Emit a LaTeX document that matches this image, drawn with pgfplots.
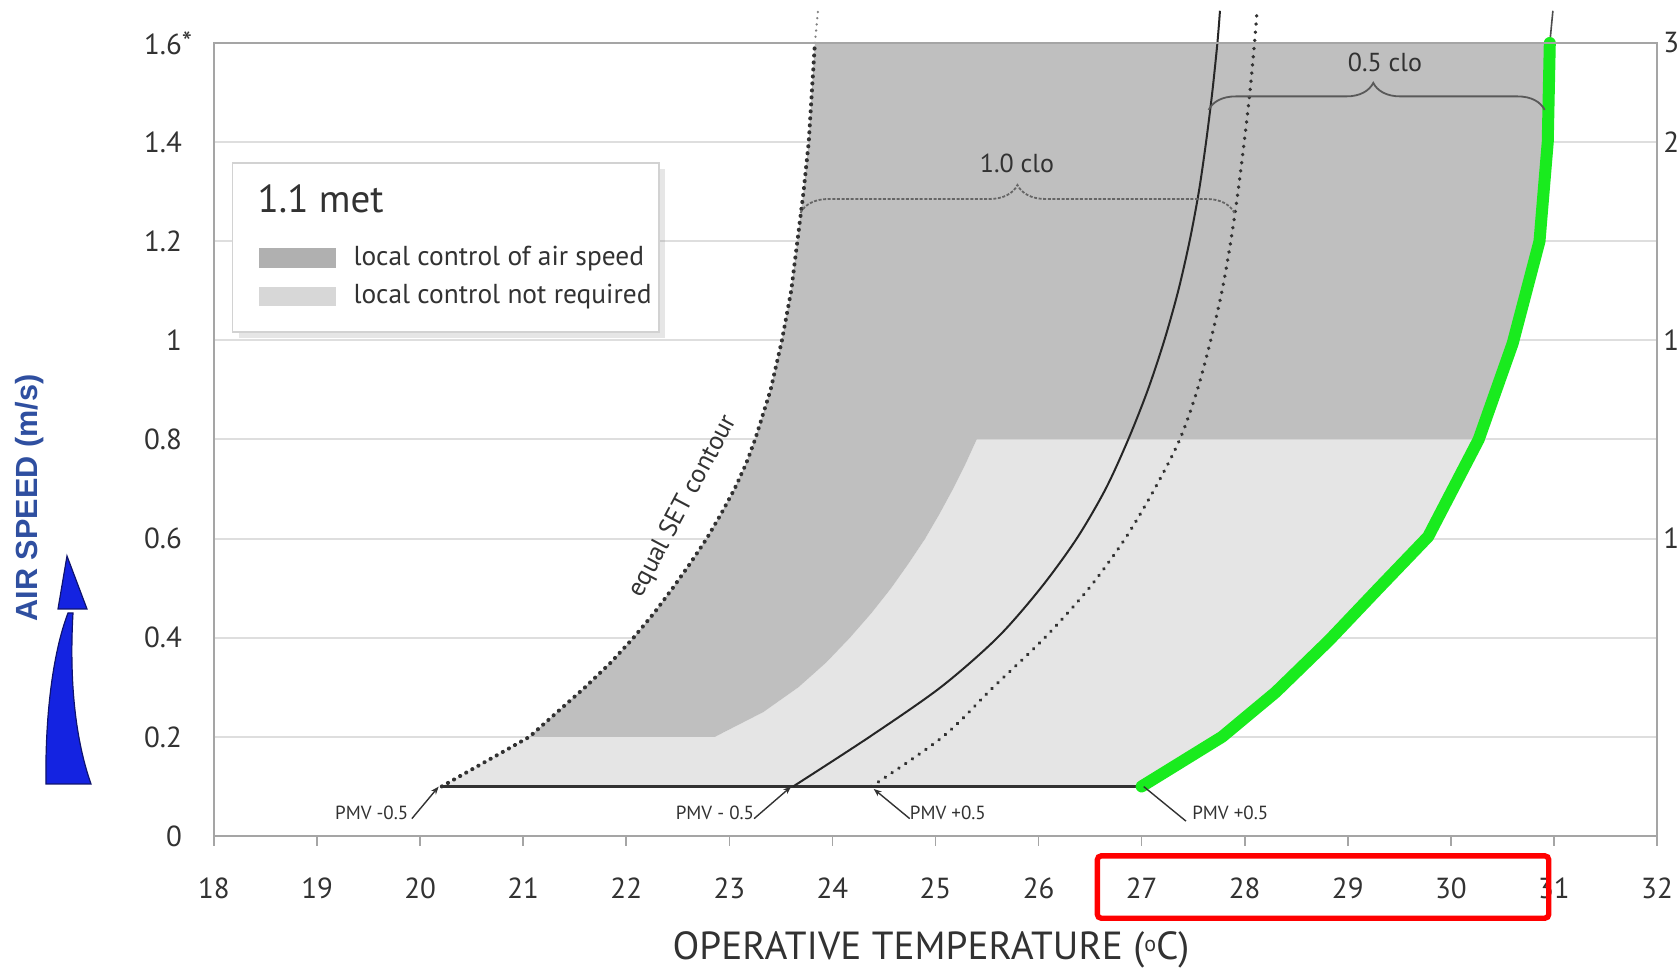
\documentclass[border=0pt]{standalone}
\usepackage{pgfplots}
\pgfplotsset{compat=1.18}
\usepackage{fontspec}
\setmainfont{PT Sans}
\newfontfamily\arialf{Liberation Sans}
\usetikzlibrary{decorations.pathreplacing,shadows,arrows.meta}
\definecolor{darkfill}{RGB}{191,191,191}
\definecolor{lightfill}{RGB}{229,229,229}
\definecolor{gridc}{RGB}{222,222,222}
\definecolor{framec}{RGB}{165,165,165}
\definecolor{txt}{RGB}{50,50,50}
\definecolor{greenl}{RGB}{25,235,30}
\definecolor{ylab}{RGB}{47,79,160}
\definecolor{arrowblue}{RGB}{20,35,225}
\definecolor{arrowedge}{RGB}{15,20,110}
\begin{document}
\begin{tikzpicture}
\begin{axis}[
  scale only axis, width=721.5pt, height=396.5pt,
  xmin=18, xmax=32, ymin=0, ymax=1.6,
  xtick={18,19,...,32},
  ytick={0,0.2,0.4,0.6,0.8,1,1.2,1.4,1.6},
  yticklabels={0,0.2,0.4,0.6,0.8,1,1.2,1.4,{1.6\rlap{\raisebox{0.15ex}{*}}}},
  ymajorgrids, grid style={gridc, line width=1pt},
  axis line style={framec, line width=1pt},
  tick align=outside, major tick length=5pt,
  xtick pos=left,
  xtick style={framec, line width=0.8pt},
  ytick style={draw=none},
  tick label style={font=\fontsize{14.5}{16}\selectfont, text=txt},
  /pgf/number format/assume math mode=true,
  xticklabel style={anchor=base, yshift=-26.5pt},
  yticklabel style={anchor=east, xshift=-7.5pt},
  clip=false,
  axis on top=false,
]
% light region: local control not required
\addplot[fill=lightfill, draw=none] coordinates {(20.21,0.1) (20.635,0.15) (21.06,0.2) (22.86,0.2) (23.33,0.25) (23.67,0.3) (23.94,0.35) (24.17,0.4) (24.38,0.45) (24.57,0.5) (24.74,0.55) (24.90,0.6) (25.04,0.65) (25.17,0.7) (25.29,0.75) (25.40,0.8) (30.27,0.8) (29.78,0.604) (29.3,0.5) (28.82,0.395) (28.3,0.29) (27.78,0.2) (27.0,0.1)} -- cycle;
% dark region: local control of air speed
\addplot[fill=darkfill, draw=none] coordinates {(21.06,0.2) (21.33,0.25) (21.60,0.3) (21.85,0.35) (22.07,0.4) (22.27,0.45) (22.45,0.5) (22.62,0.55) (22.78,0.6) (22.92,0.65) (23.05,0.7) (23.16,0.75) (23.25,0.8) (23.40,0.9) (23.51,1.0) (23.60,1.1) (23.66,1.2) (23.72,1.3) (23.77,1.4) (23.80,1.5) (23.83,1.6) (30.96,1.6) (30.94,1.4) (30.86,1.2) (30.60,0.994) (30.27,0.8) (25.40,0.8) (25.29,0.75) (25.17,0.7) (25.04,0.65) (24.90,0.6) (24.74,0.55) (24.57,0.5) (24.38,0.45) (24.17,0.4) (23.94,0.35) (23.67,0.3) (23.33,0.25) (22.86,0.2)} -- cycle;
% equal SET contour
\addplot[txt, line width=2pt, dash pattern=on 0.1pt off 3.4pt, line cap=round] coordinates {(20.21,0.1) (20.635,0.15) (21.06,0.2) (21.33,0.25) (21.60,0.3) (21.85,0.35) (22.07,0.4) (22.27,0.45) (22.45,0.5) (22.62,0.55) (22.78,0.6) (22.92,0.65) (23.05,0.7) (23.16,0.75) (23.25,0.8) (23.40,0.9) (23.51,1.0) (23.60,1.1) (23.66,1.2) (23.72,1.3) (23.77,1.4) (23.80,1.5) (23.83,1.6)};
\addplot[gray, line width=1.2pt, dash pattern=on 0.1pt off 3pt, line cap=round] coordinates {(23.83,1.6) (23.86,1.665)};
% base line at 0.1 m/s
\addplot[txt, line width=1.5pt] coordinates {(20.21,0.1) (27.0,0.1)};
% PMV -0.5 (0.5 clo), solid
\addplot[black!85, line width=1pt, smooth, tension=0.5] coordinates {(23.62,0.1) (24.36,0.2) (25.05,0.3) (25.60,0.4) (26.02,0.5) (26.37,0.6) (26.65,0.7) (26.87,0.8) (27.06,0.9) (27.22,1.0) (27.355,1.1) (27.465,1.2) (27.555,1.3) (27.625,1.4) (27.685,1.5) (27.735,1.6) (27.76,1.665)};
% PMV +0.5 (1.0 clo), dotted
\addplot[txt, line width=1.8pt, dash pattern=on 0.1pt off 4pt, line cap=round, smooth, tension=0.5] coordinates {(24.38,0.1) (25.07,0.2) (25.56,0.3) (26.06,0.4) (26.49,0.5) (26.84,0.6) (27.125,0.7) (27.37,0.8) (27.54,0.9) (27.67,1.0) (27.78,1.1) (27.865,1.2) (27.935,1.3) (27.995,1.4) (28.05,1.5) (28.095,1.6) (28.12,1.665)};
% PMV +0.5 (0.5 clo), green
\addplot[black!70, line width=0.8pt] coordinates {(30.96,1.6) (30.99,1.665)};
\addplot[greenl, line width=6pt, line cap=round, line join=round] coordinates {(27.0,0.1) (27.78,0.2) (28.3,0.29) (28.82,0.395) (29.3,0.5) (29.78,0.604) (30.27,0.8) (30.60,0.994) (30.86,1.2) (30.94,1.4) (30.96,1.6)};

\draw[framec, line width=1pt] (rel axis cs:0,1) -- (rel axis cs:1,1);
\coordinate (SW) at (rel axis cs:0,0);

% braces
\draw[decorate, decoration={brace, amplitude=14pt, aspect=0.5}, gray!80!black, line width=0.9pt, dash pattern=on 1.5pt off 0.8pt] (axis cs:23.69,1.257) -- (axis cs:27.90,1.257);
\node[font=\fontsize{13}{15}\selectfont, text=txt] at (axis cs:25.79,1.358) {1.0 clo};
\draw[decorate, decoration={brace, amplitude=13.5pt, aspect=0.49}, gray!70!black, line width=0.9pt] (axis cs:27.65,1.465) -- (axis cs:30.91,1.465);
\node[font=\fontsize{13}{15}\selectfont, text=txt] at (axis cs:29.36,1.56) {0.5 clo};

% legend box
\draw[draw=gray!35, fill=white, line width=0.8pt, drop shadow={opacity=0.2, shadow xshift=3pt, shadow yshift=-3pt}] (axis cs:18.18,1.358) rectangle (axis cs:22.32,1.017);
\node[anchor=west, inner sep=0pt, font=\fontsize{19.5}{21}\selectfont, text=txt] at (axis cs:18.42,1.285) {1.1 met};
\fill[darkfill!92!black] (axis cs:18.44,1.186) rectangle (axis cs:19.18,1.146);
\fill[lightfill!94!black] (axis cs:18.44,1.108) rectangle (axis cs:19.18,1.069);
\node[anchor=west, inner sep=0pt, font=\fontsize{13.7}{15}\selectfont, text=txt] at (axis cs:19.35,1.166) {local control of air speed};
\node[anchor=west, inner sep=0pt, font=\fontsize{13.7}{15}\selectfont, text=txt] at (axis cs:19.35,1.089) {local control not required};

% SET label
\node[rotate=62, font=\fontsize{13}{15}\selectfont, text=txt] at (axis cs:22.55,0.665) {equal SET contour};

% PMV labels
\node[font=\fontsize{9.5}{11}\selectfont, text=txt] at (axis cs:19.53,0.046) {PMV -0.5};
\draw[txt, line width=0.7pt, -{Stealth[length=4pt]}] (axis cs:19.92,0.035) -- (axis cs:20.18,0.0997);
\node[font=\fontsize{9.5}{11}\selectfont, text=txt] at (axis cs:22.86,0.046) {PMV - 0.5};
\draw[txt, line width=0.7pt, -{Stealth[length=4pt]}] (axis cs:23.24,0.035) -- (axis cs:23.60,0.0997);
\node[font=\fontsize{9.5}{11}\selectfont, text=txt] at (axis cs:25.12,0.046) {PMV +0.5};
\draw[txt, line width=0.7pt, -{Stealth[length=4pt]}] (axis cs:24.75,0.035) -- (axis cs:24.40,0.095);
\node[font=\fontsize{9.5}{11}\selectfont, text=txt] at (axis cs:27.86,0.046) {PMV +0.5};
\draw[txt, line width=0.7pt] (axis cs:27.43,0.03) -- (axis cs:27.02,0.0997);

% red highlight box
\draw[red, line width=2.7pt, rounded corners=2pt] (axis cs:26.57,-0.040) rectangle (axis cs:30.95,-0.166);

% right-hand (cut off) labels
\node[anchor=west, inner sep=0pt, xshift=3pt, font=\fontsize{14.5}{16}\selectfont, text=txt] at (axis cs:32,1.6) {3};
\node[anchor=west, inner sep=0pt, xshift=3pt, font=\fontsize{14.5}{16}\selectfont, text=txt] at (axis cs:32,1.4) {2};
\node[anchor=west, inner sep=0pt, xshift=3pt, font=\fontsize{14.5}{16}\selectfont, text=txt] at (axis cs:32,1.0) {1};
\node[anchor=west, inner sep=0pt, xshift=3pt, font=\fontsize{14.5}{16}\selectfont, text=txt] at (axis cs:32,0.6) {1};
\end{axis}

\begin{scope}[shift={(SW)}, x=0.5pt, y=-0.5pt, shift={(-214,-836)}]
  % blue arrow
  \filldraw[fill=arrowblue, draw=arrowedge, line width=0.6pt]
    (46,784) .. controls (45,720) and (52,655) .. (68,613) -- (73,613)
    .. controls (70,665) and (72,730) .. (91,784) -- cycle;
  \filldraw[fill=arrowblue, draw=arrowedge, line width=0.6pt] (58,609) -- (67,556) -- (87,609) -- cycle;
  \node[rotate=90, font=\arialf\bfseries\fontsize{15.3}{17}\selectfont, text=ylab] at (30,498) {AIR SPEED (m/s)};
  \node[font=\fontsize{19.6}{22}\selectfont, text=txt] at (931,950) {OPERATIVE TEMPERATURE ({\fontsize{11}{11}\selectfont\raisebox{0.75ex}{o}}C)};
  \pgfresetboundingbox
  \path[use as bounding box] (0,0) rectangle (1678,972);
\end{scope}
\end{tikzpicture}
\end{document}
